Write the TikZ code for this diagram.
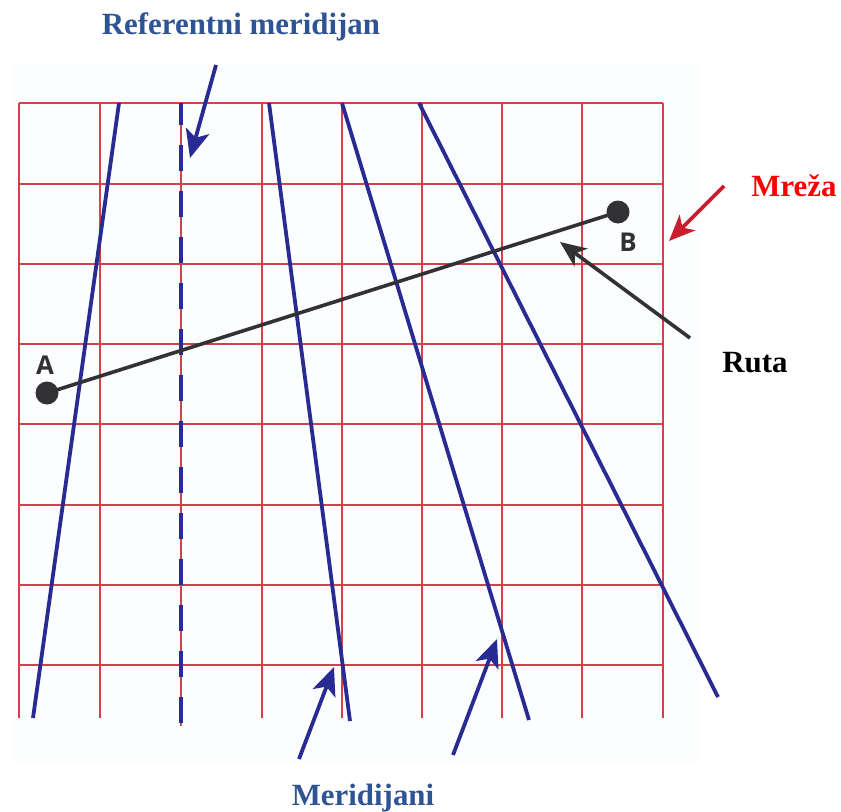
\documentclass[tikz,border=0pt]{standalone}
\usepackage{fontspec}
\setmainfont{Liberation Serif}
\newfontfamily\labfont{Open Sans}
\usetikzlibrary{arrows.meta}
\definecolor{gridred}{RGB}{210,66,74}
\definecolor{navy}{RGB}{40,44,146}
\definecolor{txtblue}{RGB}{47,84,150}
\definecolor{rutagray}{RGB}{50,50,52}
\definecolor{mrezared}{RGB}{200,30,45}
\definecolor{bgtint}{RGB}{252,253,254}
\tikzset{
  gridline/.style={gridred, line width=2.6bp},
  meridian/.style={navy, line width=3.8bp},
  navyarrow/.style={navy, line width=3.8bp, -{Stealth[length=28bp,width=24bp,inset=7bp]}},
  grayarrow/.style={rutagray, line width=3.6bp, -{Stealth[length=26bp,width=22bp,inset=7bp]}},
  redarrow/.style={mrezared, line width=3.6bp, -{Stealth[length=26bp,width=22bp,inset=7bp]}},
  bigtext/.style={font=\fontsize{31}{36}\selectfont\bfseries, anchor=base, inner sep=0pt},
  ptlabel/.style={font=\labfont\fontsize{26}{30}\selectfont\bfseries, text=rutagray, inner sep=0pt},
  dot/.style={circle, fill=rutagray, minimum size=23bp, inner sep=0pt},
}
\begin{document}
\begin{tikzpicture}[x=1bp,y=-1bp]
\useasboundingbox (0,0) rectangle (841,812);
\fill[white] (0,0) rectangle (841,812);
\fill[bgtint] (12,64) rectangle (700,762);
% grid
\foreach \x in {19,100,181,262,342,422,502,582,663}
  \draw[gridline] (\x,103) -- (\x,718);
\foreach \y in {103,184,264,344,424,505,585,665}
  \draw[gridline] (19,\y) -- (663,\y);
% meridians
\draw[meridian] (119,103) -- (33,718);
\draw[meridian] (269,103) -- (350,721);
\draw[meridian] (342,103) -- (529,720);
\draw[meridian] (419,103) -- (718,697);
% reference meridian (dashed)
\draw[gridline] (181,718) -- (181,726);
\draw[navy, line width=3.8bp, dash pattern=on 26bp off 20bp, dash phase=4bp] (181,103) -- (181,726);
% route
\node[dot] (A) at (47,393) {};
\node[dot] (B) at (618,212) {};
\draw[rutagray, line width=3.6bp] (A.center) -- (B.center);
\node[ptlabel] (la) at (45,365) {A};
\node[ptlabel] (lb) at (628,242) {B};
% labels
\node[bigtext, text=txtblue] (ref) at (241,35) {Referentni meridijan};
\node[bigtext, text=txtblue] (mer) at (363,805) {Meridijani};
\node[bigtext, text=red] (mreza) at (794,196) {Mreža};
\node[bigtext, text=black] (ruta) at (755,372) {Ruta};
% arrows
\coordinate (refs) at (216,65);
\coordinate (reft) at (190,158);
\draw[navyarrow] (refs) -- (reft);
\coordinate (m1s) at (299,759);
\coordinate (m1t) at (334,667);
\draw[navyarrow] (m1s) -- (m1t);
\coordinate (m2s) at (453,755);
\coordinate (m2t) at (497,639);
\draw[navyarrow] (m2s) -- (m2t);
\coordinate (mrs) at (724,186);
\coordinate (mrt) at (669,241);
\draw[redarrow] (mrs) -- (mrt);
\coordinate (rus) at (690,338);
\coordinate (rut) at (560,242);
\draw[grayarrow] (rus) -- (rut);
\end{tikzpicture}
\end{document}
